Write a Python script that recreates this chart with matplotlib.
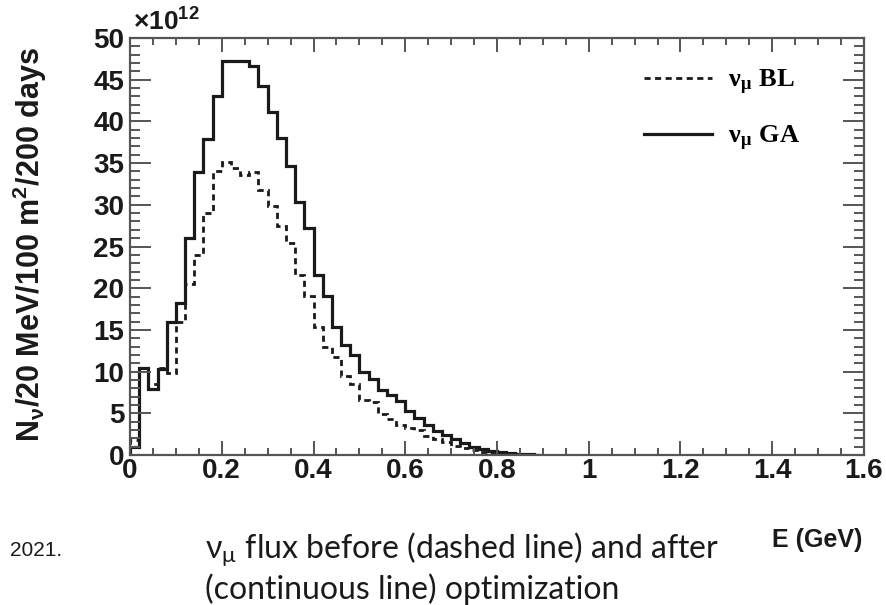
import matplotlib as mpl

mpl.use("Agg")
import matplotlib.pyplot as plt
import numpy as np

# 20 MeV bins starting at 0 GeV, values in units of 1e12
bin_width = 0.02
ga_flux = [
    1.0, 10.4, 7.9, 10.3, 15.9, 18.2, 26.0, 33.9, 37.9, 43.0,
    47.2, 47.2, 47.2, 46.7, 44.2, 41.1, 38.0, 34.7, 30.3, 27.2,
    21.6, 19.1, 15.4, 13.2, 12.0, 10.0, 9.1, 7.8, 7.2, 6.5,
    5.3, 4.4, 3.6, 2.9, 2.4, 1.9, 1.4, 1.0, 0.7, 0.45,
    0.3, 0.2, 0.12, 0.07, 0.04,
]
bl_flux = [
    1.8, 10.4, 8.5, 10.4, 9.8, 15.9, 20.5, 24.0, 29.0, 34.0,
    35.1, 34.4, 33.6, 33.9, 31.8, 29.9, 27.4, 25.4, 21.6, 19.1,
    15.3, 13.0, 11.7, 9.5, 8.5, 6.6, 6.4, 4.9, 4.3, 3.6,
    3.2, 3.0, 2.3, 1.9, 1.5, 1.1, 0.8, 0.55, 0.35, 0.2,
    0.12, 0.06, 0.03, 0.01, 0.0,
]
x_ticks = [0, 0.2, 0.4, 0.6, 0.8, 1.0, 1.2, 1.4, 1.6]
x_tick_labels = ["0", "0.2", "0.4", "0.6", "0.8", "1", "1.2", "1.4", "1.6"]
y_ticks = [0, 5, 10, 15, 20, 25, 30, 35, 40, 45, 50]

W, H = 887, 605
root_font = ["Liberation Sans", "DejaVu Sans"]
ink = "#1a1a1a"
mpl.rcParams.update(
    {
        "mathtext.fontset": "custom",
        "mathtext.rm": "Liberation Sans:bold",
        "mathtext.it": "Liberation Sans:bold",
        "mathtext.bf": "Liberation Sans:bold",
    }
)

fig = plt.figure(figsize=(W / 100, H / 100), dpi=100)
ax = fig.add_axes([130 / W, 1 - 455 / H, (864 - 130) / W, (455 - 38) / H])

edges_ga = np.arange(len(ga_flux) + 1) * bin_width
edges_bl = np.arange(len(bl_flux) + 1) * bin_width
ax.stairs(ga_flux, edges_ga, color=ink, linewidth=2.3,
          label=r"ν$_{\mathregular{μ}}$ GA")
ax.stairs(bl_flux, edges_bl, color=ink, linewidth=2.0,
          linestyle=(0, (2.2, 1.6)), label=r"ν$_{\mathregular{μ}}$ BL")

ax.set_xlim(0, 1.6)
ax.set_ylim(0, 50)
ax.set_xticks(x_ticks, x_tick_labels)
ax.set_xticks(np.arange(0, 1.6001, 0.05), minor=True)
ax.set_yticks(y_ticks)
ax.set_yticks(np.arange(0, 50.001, 1), minor=True)

spine_color = "#555555"
for sp in ax.spines.values():
    sp.set_color(spine_color)
    sp.set_linewidth(1.6)
ax.tick_params(axis="both", which="both", direction="in", top=True, right=True,
               color=spine_color, width=1.4)
ax.tick_params(axis="x", which="major", length=10, pad=2)
ax.tick_params(axis="x", which="minor", length=5)
ax.tick_params(axis="y", which="major", length=15, pad=4)
ax.tick_params(axis="y", which="minor", length=7.5)
for lab in ax.get_xticklabels() + ax.get_yticklabels():
    lab.set_family(root_font)
    lab.set_fontweight("bold")
    lab.set_fontsize(20)
    lab.set_color(ink)

handles, labels = ax.get_legend_handles_labels()
leg = ax.legend(
    handles[::-1], labels[::-1], loc="upper right", bbox_to_anchor=(0.945, 0.985),
    frameon=False, handlelength=2.6, handletextpad=0.6, labelspacing=1.0,
    prop={"family": "Liberation Serif", "weight": "bold", "size": 19},
)
for t in leg.get_texts():
    t.set_math_fontfamily("stix")

fig.text(133 / W, 1 - 22 / H, "×10$^{12}$", family=root_font, fontweight="bold",
         fontsize=19, ha="left", va="center", color=ink)
fig.text(30 / W, 1 - 245 / H, r"N$_{\nu}$/20 MeV/100 m$^{2}$/200 days",
         family=root_font, fontweight="bold", fontsize=22, rotation=90,
         ha="center", va="center", color=ink)
fig.text(862 / W, 1 - 540 / H, "E (GeV)", family=root_font, fontweight="bold",
         fontsize=18, ha="right", va="center", color=ink)
fig.text(10 / W, 1 - 550 / H, "2021.", family="Liberation Sans", fontsize=15,
         ha="left", va="center", color=ink)
fig.text(205 / W, 1 - 550 / H,
         r"ν$_{\mathregular{μ}}$ flux before (dashed line) and after",
         family=["Lato", "Liberation Serif"], fontsize=23, ha="left",
         va="center", color=ink, math_fontfamily="stix")
fig.text(205 / W, 1 - 589 / H, "(continuous line) optimization",
         family="Lato", fontsize=23, ha="left", va="center", color=ink)

fig.savefig("out.png", dpi=100)
